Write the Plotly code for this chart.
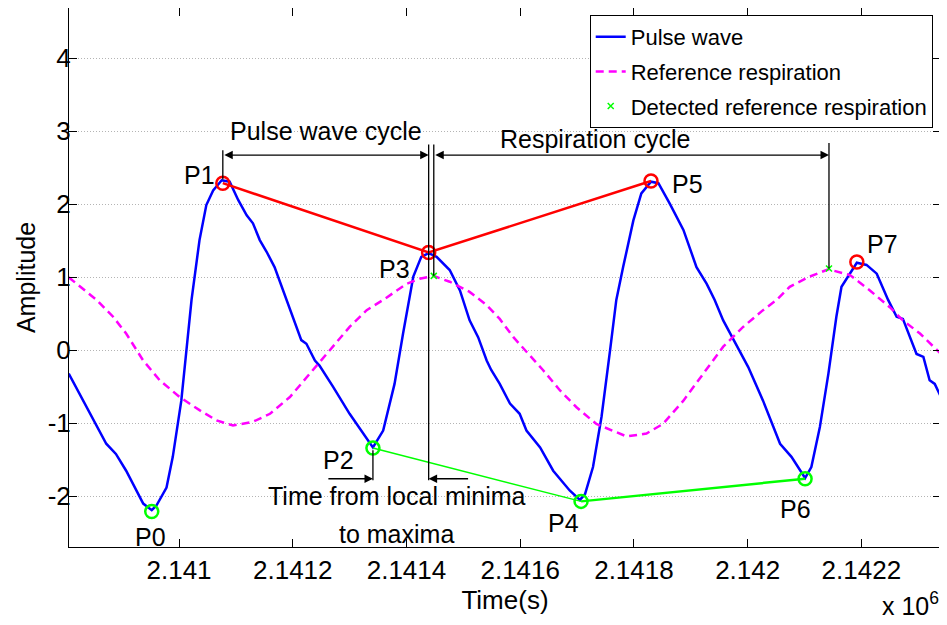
import plotly.graph_objects as go

# ---------------- data ----------------
pulse_t = [2140806, 2140840, 2140872, 2140889, 2140907, 2140937, 2140952, 2140960, 2140978, 2140989,
           2141004, 2141013, 2141022, 2141036, 2141048, 2141060, 2141075, 2141089, 2141104, 2141119,
           2141130, 2141142, 2141154, 2141168, 2141183, 2141200, 2141215, 2141224, 2141239, 2141247,
           2141271, 2141300, 2141324, 2141341, 2141359, 2141379, 2141394, 2141412, 2141426, 2141439,
           2141453, 2141476, 2141494, 2141511, 2141526, 2141541, 2141549, 2141564, 2141582, 2141599,
           2141611, 2141635, 2141658, 2141687, 2141705, 2141714, 2141728, 2141743, 2141758, 2141769,
           2141781, 2141799, 2141813, 2141830, 2141843, 2141863, 2141887, 2141910, 2141928, 2141942,
           2141957, 2141975, 2142001, 2142027, 2142057, 2142077, 2142101, 2142112, 2142127, 2142142,
           2142156, 2142165, 2142177, 2142192, 2142209, 2142227, 2142247, 2142262, 2142273, 2142297,
           2142309, 2142320, 2142329, 2142340]
pulse_y = [-0.32, -0.82, -1.28, -1.42, -1.65, -2.10, -2.19, -2.13, -1.88, -1.46,
           -0.69, 0.0, 0.69, 1.51, 1.99, 2.19, 2.33, 2.31, 2.06, 1.85,
           1.74, 1.51, 1.35, 1.14, 0.82, 0.46, 0.14, 0.09, -0.14, -0.21,
           -0.50, -0.87, -1.14, -1.33, -1.10, -0.46, 0.23, 1.01, 1.28, 1.33,
           1.28, 1.10, 0.82, 0.41, 0.18, -0.14, -0.27, -0.46, -0.73, -0.87,
           -1.10, -1.33, -1.65, -1.92, -2.05, -1.97, -1.60, -0.91, 0.0, 0.69,
           1.14, 1.78, 2.15, 2.31, 2.29, 2.01, 1.65, 1.14, 0.91, 0.69,
           0.41, 0.14, -0.23, -0.69, -1.28, -1.46, -1.75, -1.60, -1.05, -0.32,
           0.46, 0.87, 1.01, 1.20, 1.17, 1.05, 0.69, 0.46, 0.43, -0.05,
           -0.09, -0.41, -0.46, -0.64]

resp_t = [2140806, 2140855, 2140884, 2140907, 2140937, 2140966, 2141001, 2141036, 2141066, 2141095,
          2141130, 2141160, 2141195, 2141230, 2141265, 2141300, 2141330, 2141359, 2141400, 2141423,
          2141447, 2141476, 2141511, 2141541, 2141564, 2141588, 2141611, 2141640, 2141670, 2141699,
          2141734, 2141746, 2141787, 2141822, 2141851, 2141887, 2141922, 2141957, 2141992, 2142027,
          2142051, 2142074, 2142109, 2142142, 2142180, 2142215, 2142250, 2142273, 2142303, 2142340]
resp_y = [1.00, 0.69, 0.46, 0.23, -0.14, -0.41, -0.64, -0.82, -0.96, -1.03,
          -0.98, -0.87, -0.64, -0.32, 0.0, 0.32, 0.55, 0.69, 0.91, 0.98,
          1.02, 0.94, 0.80, 0.62, 0.43, 0.18, -0.02, -0.27, -0.55, -0.78,
          -1.01, -1.05, -1.18, -1.14, -1.01, -0.69, -0.32, 0.05, 0.32, 0.55,
          0.69, 0.87, 1.01, 1.11, 1.03, 0.82, 0.59, 0.41, 0.23, -0.05]

# extreme points P0..P7
p_labels = ["P0", "P1", "P2", "P3", "P4", "P5", "P6", "P7"]
p_t = [2140952, 2141077, 2141341, 2141439, 2141707, 2141830, 2142101, 2142192]
p_y = [-2.21, 2.29, -1.34, 1.34, -2.07, 2.32, -1.76, 1.21]

# detected reference respiration peaks
det_t = [2141448, 2142143]
det_y = [1.02, 1.12]

x_tickvals = [2141000, 2141200, 2141400, 2141600, 2141800, 2142000, 2142200]
x_ticktext = ["2.141", "2.1412", "2.1414", "2.1416", "2.1418", "2.142", "2.1422"]
y_tickvals = [-2, -1, 0, 1, 2, 3, 4]
y_ticktext = ["-2", "-1", "0", "1", "2", "3", "4"]

FONT = "Liberation Sans, Arial, Helvetica, sans-serif"

fig = go.Figure()

fig.add_trace(go.Scatter(x=pulse_t, y=pulse_y, mode="lines", name="Pulse wave",
                         line=dict(color="#0000ff", width=2.5), legendgroup="a"))
fig.add_trace(go.Scatter(x=resp_t, y=resp_y, mode="lines", name="Reference respiration",
                         line=dict(color="#ff00ff", width=2.5, dash="8px,5px"), legendgroup="b"))

max_idx = [1, 3, 5, 7]
min_idx = [0, 2, 4, 6]
# red line joining P1-P3-P5
fig.add_trace(go.Scatter(x=[p_t[i] for i in [1, 3, 5]], y=[p_y[i] for i in [1, 3, 5]],
                         mode="lines", line=dict(color="#ff0000", width=2.5), showlegend=False))
# green lines joining P2-P4 and P4-P6
fig.add_trace(go.Scatter(x=[p_t[i] for i in [2, 4]], y=[p_y[i] for i in [2, 4]],
                         mode="lines", line=dict(color="#00ff00", width=1.5), showlegend=False))
fig.add_trace(go.Scatter(x=[p_t[i] for i in [4, 6]], y=[p_y[i] for i in [4, 6]],
                         mode="lines", line=dict(color="#00ff00", width=2.5), showlegend=False))
# circles
fig.add_trace(go.Scatter(x=[p_t[i] for i in max_idx], y=[p_y[i] for i in max_idx], mode="markers",
                         marker=dict(symbol="circle-open", size=13, color="#ff0000", line=dict(width=2.5)),
                         showlegend=False))
fig.add_trace(go.Scatter(x=[p_t[i] for i in min_idx], y=[p_y[i] for i in min_idx], mode="markers",
                         marker=dict(symbol="circle-open", size=13, color="#00ff00", line=dict(width=2.5)),
                         showlegend=False))
fig.add_trace(go.Scatter(x=det_t, y=det_y, mode="markers", name="Detected reference respiration",
                         marker=dict(symbol="x-thin", size=6, color="#00ff00",
                                     line=dict(width=1.5, color="#00ff00")), legendgroup="c"))

# --------- annotation geometry (layout positions) ---------
ARROW_Y = 2.675
TOP_Y = 2.82
LOW_ARROW_Y = -1.76
LOW_Y = -1.78

shapes = []
def vline(x, y0, y1):
    shapes.append(dict(type="line", xref="x", yref="y", x0=x, x1=x, y0=y0, y1=y1,
                       line=dict(color="black", width=1.3), layer="above"))

vline(p_t[1], p_y[1] + 0.05, 2.74)
vline(p_t[3], LOW_Y, TOP_Y)
vline(det_t[0], det_y[0], TOP_Y)
vline(det_t[1], det_y[1], 2.84)
vline(p_t[2], p_y[2] - 0.03, LOW_Y)

annotations = []
def arrow(x_head, x_tail, y, both=False):
    annotations.append(dict(x=x_head, y=y, ax=x_tail, ay=y, xref="x", yref="y", axref="x", ayref="y",
                            text="", showarrow=True, arrowhead=2, arrowsize=1.3, arrowwidth=1.3,
                            arrowcolor="black", standoff=0, startstandoff=0,
                            arrowside="end+start" if both else "end", startarrowhead=2,
                            startarrowsize=1.3))

arrow(p_t[3], p_t[1], ARROW_Y, both=True)
arrow(det_t[1], det_t[0], ARROW_Y, both=True)
arrow(p_t[2], 2141260, LOW_ARROW_Y)
arrow(p_t[3], 2141511, LOW_ARROW_Y)

def text(x, y, s, size=25, xshift=0, yshift=0, xref="x", yref="y", xanchor="center", yanchor="middle"):
    annotations.append(dict(x=x, y=y, text=s, showarrow=False, xref=xref, yref=yref,
                            xshift=xshift, yshift=yshift, xanchor=xanchor, yanchor=yanchor,
                            font=dict(family=FONT, size=size, color="black")))

label_shift = [(-1, -25), (-23, 8), (-34, -12), (-34, -16), (-18, -22), (36, -3), (-10, -30), (26, 18)]
for lab, t, y, (dx, dy) in zip(p_labels, p_t, p_y, label_shift):
    text(t, y, lab, xshift=dx, yshift=dy)

text((p_t[1] + p_t[3]) / 2, 3.0, "Pulse wave cycle")
text(2141731, 2.89, "Respiration cycle")
text(2141383, -1.99, "Time from local minima")
text(2141383, -2.52, "to maxima")
text(1.0, -0.139, "x 10<sup>6</sup>", xref="paper", yref="paper", xanchor="right", yanchor="bottom")

# the page body keeps its default 8px margin, so the figure is 8px smaller
fig.update_layout(
    width=939, height=617,
    margin=dict(l=61, r=6, t=0, b=78),
    paper_bgcolor="white", plot_bgcolor="white",
    font=dict(family=FONT, size=25, color="black"),
    shapes=shapes, annotations=annotations,
    legend=dict(x=0.9905, y=0.987, xanchor="right", yanchor="top",
                bgcolor="white", bordercolor="black", borderwidth=1, itemwidth=30,
                font=dict(family=FONT, size=22), traceorder="grouped", tracegroupgap=3),
    xaxis=dict(range=[2140806.5, 2142340], tickvals=x_tickvals, ticktext=x_ticktext,
               automargin=False,
               showgrid=False, zeroline=False, showline=True, linecolor="black", linewidth=1,
               mirror="ticks", ticks="inside", ticklen=8, tickcolor="black",
               tickfont=dict(size=26),
               title=dict(text="Time(s)", font=dict(size=26), standoff=4)),
    yaxis=dict(range=[-2.695, 4.69], tickvals=y_tickvals, ticktext=y_ticktext,
               automargin=False, ticklabelstandoff=-8,
               showgrid=True, gridcolor="#b4b4b4", griddash="1px,2px", gridwidth=1,
               zeroline=False, showline=True, linecolor="black", linewidth=1,
               mirror="ticks", ticks="inside", ticklen=8, tickcolor="black",
               tickfont=dict(size=26),
               title=dict(text="Amplitude", font=dict(size=25), standoff=4)),
)

fig.write_html("out.html")
